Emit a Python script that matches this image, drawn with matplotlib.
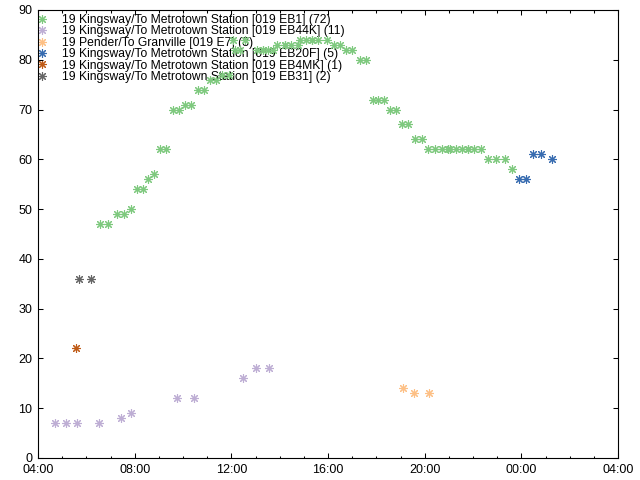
import datetime as dt
import matplotlib
matplotlib.use("Agg")
import matplotlib.pyplot as plt
import matplotlib.dates as mdates

plt.rcParams['font.family'] = ['Liberation Sans', 'DejaVu Sans']
plt.rcParams['font.size'] = 9

# trip start times (HH:MM) and durations (minutes) for each route variant
eb1_times = ["06:34", "06:54", "07:16", "07:34", "07:51", "08:06", "08:21", "08:33", "08:48",
             "09:03", "09:18", "09:35", "09:50", "10:05", "10:20", "10:37", "10:52", "11:07",
             "11:22", "11:37", "11:54", "12:04", "12:09", "12:22", "12:34", "13:04", "13:19",
             "13:19", "13:31", "13:43", "13:53", "14:13", "14:13", "14:28", "14:45", "14:50",
             "15:05", "15:20", "15:20", "15:35", "15:58", "16:15", "16:30", "16:45", "17:00",
             "17:19", "17:34", "17:52", "18:04", "18:19", "18:34", "18:49", "19:04", "19:19",
             "19:36", "19:53", "20:08", "20:26", "20:43", "20:58", "20:58", "21:03", "21:18",
             "21:33", "21:47", "21:47", "22:02", "22:20", "22:37", "22:57", "23:19", "23:37"]
eb1_vals = [47, 47, 49, 49, 50, 54, 54, 56, 57,
            62, 62, 70, 70, 71, 71, 74, 74, 76,
            76, 77, 77, 84, 82, 82, 84, 82, 82,
            82, 82, 82, 83, 83, 83, 83, 83, 84,
            84, 84, 84, 84, 84, 83, 83, 82, 82,
            80, 80, 72, 72, 72, 70, 70, 67, 67,
            64, 64, 62, 62, 62, 62, 62, 62, 62,
            62, 62, 62, 62, 62, 60, 60, 60, 58]

eb44k_times = ["04:42", "05:10", "05:38", "06:32", "07:26", "07:52", "09:46", "10:28",
               "12:30", "13:02", "13:34"]
eb44k_vals = [7, 7, 7, 7, 8, 9, 12, 12, 16, 18, 18]

e7_times = ["19:07", "19:34", "20:11"]
e7_vals = [14, 13, 13]

eb20f_times = ["23:54", "00:11", "00:29", "00:49", "01:16"]
eb20f_vals = [56, 56, 61, 61, 60]

eb4mk_times = ["05:35"]
eb4mk_vals = [22]

eb31_times = ["05:43", "06:12"]
eb31_vals = [36, 36]

labels = ["19 Kingsway/To Metrotown Station [019 EB1] (72)",
          "19 Kingsway/To Metrotown Station [019 EB44K] (11)",
          "19 Pender/To Granville [019 E7] (3)",
          "19 Kingsway/To Metrotown Station [019 EB20F] (5)",
          "19 Kingsway/To Metrotown Station [019 EB4MK] (1)",
          "19 Kingsway/To Metrotown Station [019 EB31] (2)"]
colors = ["#7fc97f", "#beaed4", "#fdc086", "#386cb0", "#bf5b17", "#666666"]

BASE = dt.datetime(2020, 1, 1)


def to_dt(hhmm):
    h, m = map(int, hhmm.split(":"))
    d = BASE + dt.timedelta(hours=h, minutes=m)
    if h < 4:  # after midnight belongs to the next service day
        d += dt.timedelta(days=1)
    return d


series = [(eb1_times, eb1_vals), (eb44k_times, eb44k_vals), (e7_times, e7_vals),
          (eb20f_times, eb20f_vals), (eb4mk_times, eb4mk_vals), (eb31_times, eb31_vals)]

fig = plt.figure(figsize=(6.4, 4.8), dpi=100)
ax = fig.add_axes([38 / 640, 1 - 458 / 480, 580 / 640, 448 / 480])

star = (8, 2, 0)
for (times, vals), lab, col in zip(series, labels, colors):
    ax.plot([to_dt(t) for t in times], vals, linestyle='none', marker=star,
            markersize=6.2, markeredgewidth=0.8, color=col, label=lab, zorder=3)

ax.set_xlim(BASE + dt.timedelta(hours=4), BASE + dt.timedelta(hours=28))
ax.set_ylim(0, 90)
ax.set_yticks(range(0, 91, 10))
ax.xaxis.set_major_locator(mdates.HourLocator(byhour=[0, 4, 8, 12, 16, 20]))
ax.xaxis.set_minor_locator(mdates.HourLocator())
ax.xaxis.set_major_formatter(mdates.DateFormatter("%H:%M"))

ax.tick_params(which='both', direction='in', top=True, right=True, width=0.75, labelsize=9)
ax.tick_params(which='major', length=3.5)
ax.tick_params(axis='x', which='major', pad=4.3)
ax.tick_params(axis='y', which='major', pad=4.0)
ax.tick_params(which='minor', length=1.8)
for s in ax.spines.values():
    s.set_linewidth(0.8)

leg = ax.legend(loc='upper left', bbox_to_anchor=(0.0, 0.991), frameon=False,
                borderaxespad=0.0, handlelength=0.6, handletextpad=1.4,
                labelspacing=-0.05, borderpad=0.0, fontsize=8.7)
leg.set_zorder(1)

fig.savefig("out.png", dpi=100)
